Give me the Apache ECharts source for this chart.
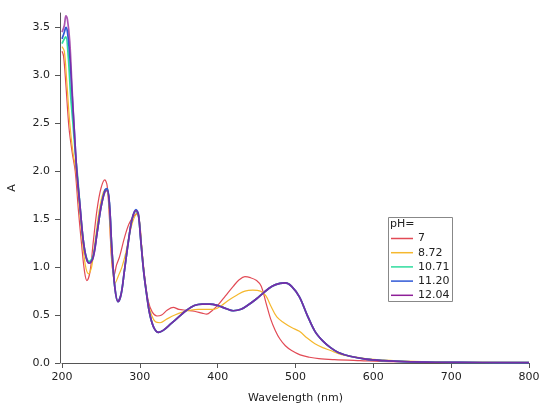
<!DOCTYPE html>
<html>
<head>
<meta charset="utf-8">
<script src="https://cdn.jsdelivr.net/npm/echarts@6/dist/echarts.min.js"></script>
<style>
  html, body { margin: 0; padding: 0; background: #fff; }
  #chart { width: 551px; height: 411px; }
</style>
</head>
<body>
<div id="chart"></div>
<script>
// absorbance spectra at different pH, [wavelength nm, A]
var phNames = ['7', '8.72', '10.71', '11.20', '12.04'];
var colorList = ['#e24a55', '#f5b82e', '#2fdc9e', '#2f58d6', '#8e1f98'];

var ph700 = [
    [200,3.25],[202,3.2],[205,2.9],[209,2.45],[213,2.2],[217,2.0],[221,1.6],[225,1.25],[229,0.95],[232,0.86],
    [236,0.95],[240,1.25],[245,1.6],[250,1.82],[255,1.91],[258,1.85],[261,1.5],[264,1.05],[267,0.92],[270,1.02],
    [274,1.11],[280,1.3],[286,1.45],[292,1.53],[297,1.56],[300,1.45],[303,1.15],[307,0.85],[311,0.64],[316,0.53],
    [322,0.49],[328,0.5],[335,0.55],[343,0.58],[350,0.56],[360,0.55],[370,0.54],[380,0.52],[386,0.51],[392,0.54],
    [400,0.6],[410,0.7],[420,0.8],[428,0.87],[435,0.9],[442,0.89],[450,0.86],[456,0.8],[462,0.63],[468,0.46],
    [474,0.34],[480,0.25],[487,0.18],[495,0.13],[506,0.085],[518,0.06],[530,0.045],[550,0.035],[583,0.025],
    [620,0.015],[700,0.008],[800,0.005]
];
var ph872 = [
    [200,3.3],[203,3.25],[206,2.95],[210,2.5],[214,2.2],[218,2.0],[222,1.65],[226,1.3],[230,1.02],[234,0.93],
    [238,1.0],[243,1.3],[248,1.6],[253,1.78],[257,1.82],[260,1.7],[263,1.2],[266,0.9],[268,0.83],[272,0.9],
    [277,1.0],[282,1.15],[287,1.35],[292,1.5],[296,1.55],[299,1.5],[302,1.25],[306,0.9],[310,0.65],[315,0.5],
    [320,0.43],[326,0.42],[335,0.46],[345,0.5],[355,0.53],[365,0.55],[375,0.56],[385,0.56],[395,0.56],[405,0.6],
    [415,0.66],[425,0.71],[435,0.75],[445,0.76],[455,0.75],[462,0.7],[468,0.6],[476,0.48],[485,0.42],[495,0.37],
    [505,0.33],[515,0.26],[525,0.2],[535,0.16],[545,0.13],[558,0.09],[571,0.07],[590,0.045],[613,0.03],
    [650,0.018],[700,0.01],[800,0.006]
];
var ph1071 = [
    [200,3.33],[203,3.38],[205,3.4],[208,3.2],[211,2.8],[214,2.5],[217,2.2],[220,1.95],[223,1.65],[227,1.3],
    [231,1.11],[235,1.06],[240,1.12],[245,1.36],[250,1.62],[255,1.79],[258,1.81],[261,1.65],[264,1.2],[268,0.78],
    [272,0.64],[276,0.72],[280,0.95],[285,1.25],[290,1.5],[295,1.58],[298,1.55],[301,1.3],[305,0.95],[309,0.7],
    [313,0.5],[318,0.37],[324,0.32],[330,0.34],[340,0.41],[350,0.48],[360,0.55],[370,0.6],[380,0.615],[390,0.615],
    [400,0.6],[410,0.57],[420,0.545],[430,0.56],[440,0.61],[450,0.67],[460,0.74],[470,0.8],[480,0.83],[487,0.835],
    [495,0.8],[505,0.69],[515,0.5],[525,0.33],[535,0.23],[545,0.16],[555,0.11],[570,0.07],[590,0.04],[613,0.024],
    [640,0.014],[680,0.008],[740,0.005],[800,0.004]
];
var ph1120 = [
    [200,3.38],[203,3.45],[205,3.5],[207,3.45],[210,3.2],[213,2.8],[216,2.4],[219,2.0],[223,1.65],[227,1.3],
    [231,1.1],[235,1.04],[240,1.1],[245,1.35],[250,1.62],[255,1.8],[258,1.82],[261,1.66],[264,1.2],[268,0.78],
    [272,0.64],[276,0.72],[280,0.95],[285,1.25],[290,1.5],[295,1.6],[298,1.56],[301,1.3],[305,0.95],[309,0.7],
    [313,0.5],[318,0.37],[324,0.32],[330,0.34],[340,0.41],[350,0.48],[360,0.55],[370,0.6],[380,0.615],[390,0.615],
    [400,0.6],[410,0.57],[420,0.545],[430,0.56],[440,0.61],[450,0.67],[460,0.74],[470,0.8],[480,0.83],[487,0.835],
    [495,0.8],[505,0.69],[515,0.5],[525,0.33],[535,0.23],[545,0.16],[555,0.11],[570,0.07],[590,0.04],[613,0.024],
    [640,0.014],[680,0.008],[740,0.005],[800,0.004]
];
var ph1204 = [
    [200,3.45],[203,3.52],[205,3.62],[207,3.58],[210,3.35],[213,2.85],[216,2.4],[219,2.0],[223,1.65],[227,1.3],
    [231,1.1],[235,1.04],[240,1.1],[245,1.35],[250,1.62],[255,1.78],[258,1.8],[261,1.65],[264,1.2],[268,0.78],
    [272,0.64],[276,0.72],[280,0.95],[285,1.25],[290,1.5],[295,1.59],[298,1.55],[301,1.3],[305,0.95],[309,0.7],
    [313,0.5],[318,0.37],[324,0.32],[330,0.34],[340,0.41],[350,0.48],[360,0.55],[370,0.6],[380,0.615],[390,0.615],
    [400,0.6],[410,0.57],[420,0.545],[430,0.56],[440,0.61],[450,0.67],[460,0.74],[470,0.8],[480,0.83],[487,0.835],
    [495,0.8],[505,0.69],[515,0.5],[525,0.33],[535,0.23],[545,0.16],[555,0.11],[570,0.07],[590,0.04],[613,0.024],
    [640,0.014],[680,0.008],[740,0.005],[800,0.004]
];

var xTicks = [200, 300, 400, 500, 600, 700, 800];
var yTicks = [0, 0.5, 1.0, 1.5, 2.0, 2.5, 3.0, 3.5];

var spectra = [ph700, ph872, ph1071, ph1120, ph1204];

var axisColor = '#555';
var font = 'DejaVu Sans';

var myChart = echarts.init(document.getElementById('chart'), null, {renderer: 'canvas'});

var series = [];
for (var i = 0; i < spectra.length; i++) {
    series.push({
        name: phNames[i], type: 'line', data: spectra[i],
        smooth: 0.35, showSymbol: false, symbol: 'none',
        // last curve sits on top of 11.20, let some blue show through
        lineStyle: {width: i > 1 ? 1.7 : 1.2, color: colorList[i], opacity: i == 4 ? 0.75 : 1},
        itemStyle: {color: colorList[i]},
        emphasis: {disabled: true},
        z: 2 + i
    });
}

var option = {
    animation: false,
    backgroundColor: '#fff',
    grid: {left: 62, right: 22, top: 13, bottom: 48, containLabel: false, outerBoundsMode: 'none'},
    xAxis: {
        type: 'value', min: 200, max: 800, interval: 100,
        name: 'Wavelength (nm)', nameLocation: 'middle', nameGap: 30,
        nameTextStyle: {fontFamily: font, fontSize: 11, color: '#222'},
        axisLine: {show: true, onZero: false, lineStyle: {color: axisColor, width: 1}},
        axisTick: {show: true, length: 5, customValues: xTicks, lineStyle: {color: axisColor}},
        axisLabel: {fontFamily: font, fontSize: 11, color: '#222', margin: 9, customValues: xTicks},
        splitLine: {show: false}
    },
    yAxis: {
        type: 'value', min: 0, max: 3.65, interval: 0.5, offset: 2,
        name: 'A', nameLocation: 'middle', nameGap: 42, nameRotate: 90,
        nameTextStyle: {fontFamily: font, fontSize: 11, color: '#222'},
        axisLine: {show: true, lineStyle: {color: axisColor, width: 1}},
        axisTick: {show: true, length: 5, customValues: yTicks, lineStyle: {color: axisColor}},
        axisLabel: {
            fontFamily: font, fontSize: 11, color: '#222', margin: 10,
            customValues: yTicks,
            formatter: function (v) { return v.toFixed(1); }
        },
        splitLine: {show: false}
    },
    legend: {
        orient: 'vertical', left: 391, top: 232, padding: 0,
        itemWidth: 22, itemHeight: 1.5, itemGap: 1.2, icon: 'rect',
        textStyle: {fontFamily: font, fontSize: 11, color: '#222', lineHeight: 13, padding: [0, 0, 0, 0]},
        data: phNames,
        selectedMode: false
    },
    graphic: [
        {type: 'rect', shape: {x: 388.5, y: 217.5, width: 64, height: 84},
         style: {fill: 'none', stroke: '#888', lineWidth: 1}, z: 10},
        {type: 'text', left: 390, top: 219,
         style: {text: 'pH=', fontFamily: font, fontSize: 11, fill: '#222'}, z: 10}
    ],
    series: series
};

myChart.setOption(option);
</script>
</body>
</html>
